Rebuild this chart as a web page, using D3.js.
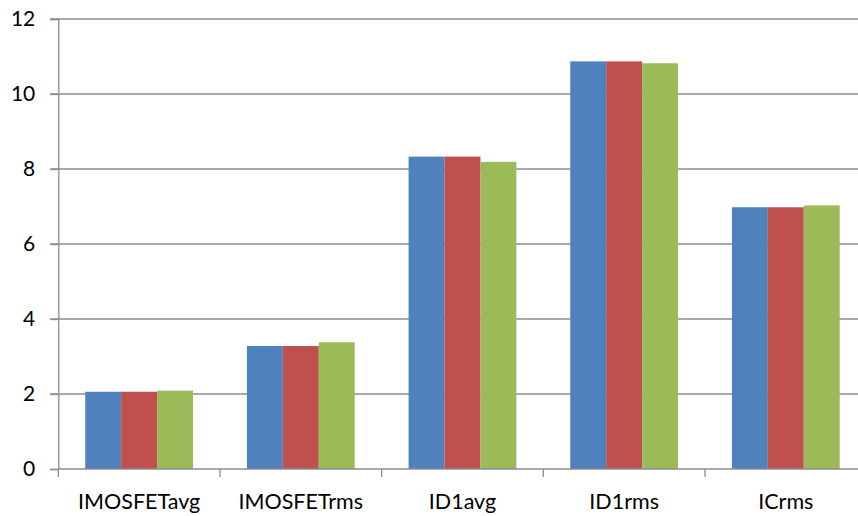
<!DOCTYPE html>
<html>
<head>
<meta charset="utf-8">
<script src="https://cdn.jsdelivr.net/npm/d3@7"></script>
<style>
  html, body { margin: 0; padding: 0; background: #fff; }
  svg { display: block; }
  text { font-family: Lato, "Open Sans", sans-serif; fill: #000; }
</style>
</head>
<body>
<svg id="chart" width="858" height="516"></svg>
<script>
// Categories and the three series (same units, 0–12 scale)
const categories = ["IMOSFETavg", "IMOSFETrms", "ID1avg", "ID1rms", "ICrms"];
const seriesA = [2.06, 3.28, 8.33, 10.87, 6.98];
const seriesB = [2.06, 3.28, 8.33, 10.87, 6.98];
const seriesC = [2.09, 3.38, 8.19, 10.82, 7.03];
const yTicks = [0, 2, 4, 6, 8, 10, 12];
const colors = ["#4f81bd", "#c0504d", "#9bbb59"];

const series = [seriesA, seriesB, seriesC];

const svg = d3.select("#chart");
const plotLeft = 58.3, plotTop = 19, plotBottom = 469;
const bandW = 161.67;
const plotRight = plotLeft + bandW * categories.length;

const x = d3.scaleBand()
  .domain(categories)
  .range([plotLeft, plotRight])
  .paddingInner(0)
  .paddingOuter(0);

const y = d3.scaleLinear().domain([0, 12]).range([plotBottom, plotTop]);

// Inner band for the three bars of each group (gap width 150%)
const barW = bandW / 4.5;
const xInner = d3.scaleBand()
  .domain([0, 1, 2])
  .range([0, barW * 3]);
const groupOffset = (bandW - barW * 3) / 2;

// Horizontal gridlines
svg.append("g")
  .selectAll("line")
  .data(yTicks.filter(d => d !== 0))
  .join("line")
  .attr("x1", plotLeft - 8)
  .attr("x2", 858)
  .attr("y1", d => y(d))
  .attr("y2", d => y(d))
  .attr("stroke", "#8c8c8c")
  .attr("stroke-width", 1.3);

// Bars
const groups = svg.append("g")
  .selectAll("g")
  .data(categories)
  .join("g")
  .attr("transform", d => `translate(${x(d) + groupOffset},0)`);

groups.selectAll("rect")
  .data((d, i) => series.map((s, k) => ({ k, v: s[i] })))
  .join("rect")
  .attr("x", d => xInner(d.k))
  .attr("width", xInner.bandwidth())
  .attr("y", d => y(d.v))
  .attr("height", d => y(0) - y(d.v))
  .attr("fill", d => colors[d.k]);

// Y axis
const yAxis = d3.axisLeft(y).tickValues(yTicks).tickSize(8).tickPadding(15).tickFormat(d3.format("d"));
const gy = svg.append("g").attr("transform", `translate(${plotLeft},0)`).call(yAxis);
gy.select(".domain").attr("stroke", "#8c8c8c").attr("stroke-width", 1.3);
gy.selectAll(".tick line").attr("stroke", "#8c8c8c").attr("stroke-width", 1.3);
gy.selectAll(".tick text")
  .style("font-family", "Lato, 'Open Sans', sans-serif")
  .style("font-size", "21px")
  .attr("fill", "#000");

// X axis with ticks between categories
const gx = svg.append("g").attr("transform", `translate(0,${plotBottom})`);
gx.append("line")
  .attr("x1", plotLeft).attr("x2", 858)
  .attr("y1", 0).attr("y2", 0)
  .attr("stroke", "#8c8c8c").attr("stroke-width", 1.3);
gx.selectAll(".sep")
  .data(categories)
  .join("line")
  .attr("class", "sep")
  .attr("x1", d => x(d)).attr("x2", d => x(d))
  .attr("y1", 0).attr("y2", 8)
  .attr("stroke", "#8c8c8c").attr("stroke-width", 1.3);
gx.selectAll(".lbl")
  .data(categories)
  .join("text")
  .attr("class", "lbl")
  .attr("x", d => x(d) + bandW / 2)
  .attr("y", 40)
  .attr("text-anchor", "middle")
  .style("font-size", "21.5px")
  .text(d => d);
</script>
</body>
</html>
